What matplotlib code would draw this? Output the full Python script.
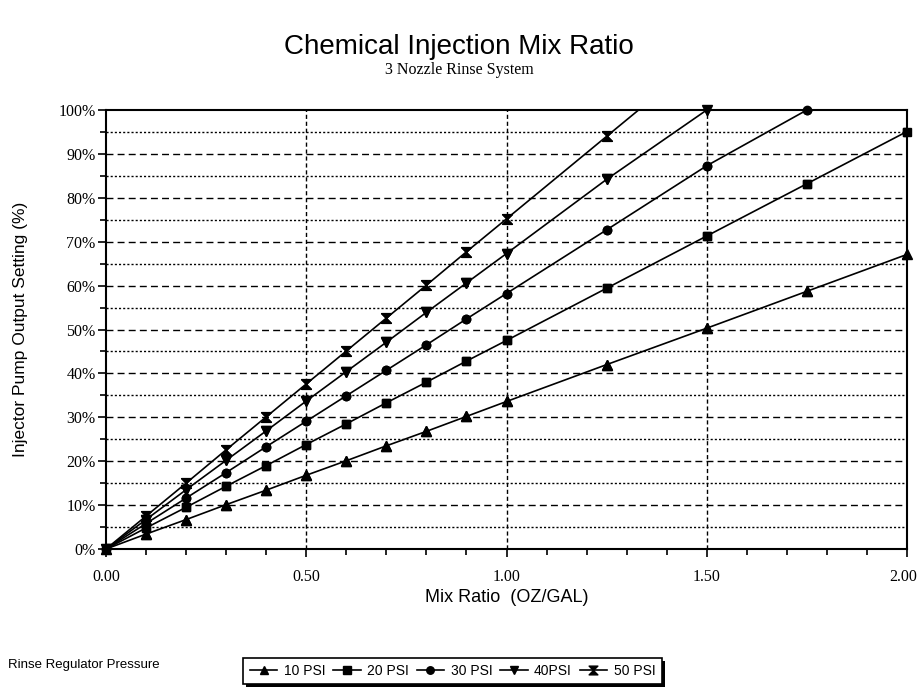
import matplotlib
matplotlib.use("Agg")
import matplotlib.pyplot as plt
import numpy as np
from matplotlib.path import Path
from matplotlib.patches import Rectangle
from matplotlib.transforms import ScaledTranslation
from matplotlib.ticker import FixedLocator, MultipleLocator, FuncFormatter

# ---- data ----
mix_ratio = [0.0, 0.1, 0.2, 0.3, 0.4, 0.5, 0.6, 0.7, 0.8, 0.9, 1.0, 1.25, 1.5, 1.75, 2.0]
psi10 = [0, 3.4, 6.7, 10.1, 13.4, 16.8, 20.1, 23.5, 26.8, 30.2, 33.6, 42.0, 50.3, 58.7, 67.1]
psi20 = [0, 4.8, 9.5, 14.3, 19.0, 23.8, 28.5, 33.3, 38.0, 42.8, 47.5, 59.4, 71.3, 83.2, 95.1]
psi30 = [0, 5.8, 11.6, 17.4, 23.3, 29.1, 34.9, 40.7, 46.5, 52.4, 58.2, 72.7, 87.3, 100.0]
psi40 = [0, 6.7, 13.5, 20.2, 26.9, 33.7, 40.4, 47.1, 53.9, 60.6, 67.3, 84.2, 100.0]
psi50 = [0, 7.5, 15.0, 22.6, 30.1, 37.6, 45.1, 52.6, 60.1, 67.7, 75.2, 94.0, 112.8]
labels = ["10 PSI", "20 PSI", "30 PSI", "40PSI", "50 PSI"]
x_ticks = [0.0, 0.5, 1.0, 1.5, 2.0]
x_tick_labels = ["0.00", "0.50", "1.00", "1.50", "2.00"]

hourglass = Path([(-1, 1), (1, 1), (0, 0), (1, -1), (-1, -1), (0, 0), (-1, 1)],
                 [Path.MOVETO, Path.LINETO, Path.LINETO, Path.LINETO, Path.LINETO, Path.LINETO, Path.CLOSEPOLY])

fig = plt.figure(figsize=(9.18, 7.0), dpi=100)
ax = fig.add_axes([106/918, 1-549/700, (907-106)/918, (549-110)/700])

series = [psi10, psi20, psi30, psi40, psi50]
markers = ["^", "s", "o", "v", hourglass]
msizes = [6.5, 6, 6, 6.5, 7]
handles = []
for ys, mk, ms, lab in zip(series, markers, msizes, labels):
    xs = mix_ratio[:len(ys)]
    h, = ax.plot(xs, ys, color="black", lw=1.2, marker=mk, markersize=ms,
                 markerfacecolor="black", markeredgecolor="black", label=lab, clip_on=True, zorder=3)
    handles.append(h)
for ys, mk, ms in zip(series, markers, msizes):
    xs = mix_ratio[:len(ys)]
    px = [x for x, y in zip(xs, ys) if y <= 100]
    py = [y for y in ys if y <= 100]
    ax.plot(px, py, ls="none", marker=mk, markersize=ms, color="black", clip_on=False, zorder=4)

ax.set_xlim(0, 2.0)
ax.set_ylim(0, 100)

for y in range(10, 100, 10):
    ax.axhline(y, color="black", lw=1.0, ls=(0, (5, 3)), zorder=1)
for y in range(5, 100, 10):
    ax.axhline(y, color="black", lw=1.0, ls=(0, (1.5, 1.5)), zorder=1)
for x in [0.5, 1.0, 1.5]:
    ax.axvline(x, color="black", lw=1.0, ls=(0, (3, 2)), zorder=1)

ax.xaxis.set_major_locator(FixedLocator(x_ticks))
ax.set_xticklabels(x_tick_labels)
ax.xaxis.set_minor_locator(MultipleLocator(0.1))
ax.yaxis.set_major_locator(MultipleLocator(10))
ax.yaxis.set_minor_locator(MultipleLocator(5))
ax.yaxis.set_major_formatter(FuncFormatter(lambda v, p: f"{int(round(v))}%"))

ax.tick_params(which="both", direction="out", color="black", width=1.2)
ax.tick_params(which="major", length=5.5)
ax.tick_params(which="minor", length=4)
ax.tick_params(axis="y", which="major", pad=2)
ax.tick_params(axis="x", which="major", pad=9)
for lab in ax.get_xticklabels() + ax.get_yticklabels():
    lab.set_fontfamily("Liberation Serif")
    lab.set_fontsize(11.5)
last = ax.get_xticklabels()[-1]
last.set_transform(last.get_transform() + ScaledTranslation(-4/100, 0, fig.dpi_scale_trans))
for s in ax.spines.values():
    s.set_linewidth(1.5)
    s.set_color("black")

ax.set_xlabel("Mix Ratio  (OZ/GAL)", fontfamily="Liberation Sans", fontsize=13, labelpad=3)
ax.set_ylabel("Injector Pump Output Setting (%)", fontfamily="Liberation Sans", fontsize=12.5)
ax.yaxis.set_label_coords((28-106)/801, 0.5)

fig.text(0.5, 1-47/700, "Chemical Injection Mix Ratio", ha="center", va="center",
         fontfamily="Liberation Sans", fontsize=20)
fig.text(0.5, 1-70/700, "3 Nozzle Rinse System", ha="center", va="center",
         fontfamily="Liberation Serif", fontsize=11.5)
fig.text(8/918, 1-665/700, "Rinse Regulator Pressure", ha="left", va="center",
         fontfamily="Liberation Sans", fontsize=9.5)

leg = fig.legend(handles=handles, labels=labels, loc="center", ncol=5,
                 bbox_to_anchor=((242+663)/2/918, 1-671/700),
                 frameon=True, fancybox=False, shadow=False, edgecolor="black",
                 prop={"family": "Liberation Sans", "size": 10},
                 handlelength=2.0, handletextpad=0.45, columnspacing=0.55,
                 borderpad=0.45, markerscale=0.9, framealpha=1.0, facecolor="white")
leg.get_frame().set_linewidth(1.2)
leg.set_zorder(5)
fig.canvas.draw()
bb = leg.get_window_extent().transformed(fig.transFigure.inverted())
fig.patches.append(Rectangle((bb.x0 + 3/918, bb.y0 - 3/700), bb.width, bb.height,
                             transform=fig.transFigure, facecolor="black", edgecolor="none", zorder=0))

fig.savefig("out.png", dpi=100, facecolor="white")
